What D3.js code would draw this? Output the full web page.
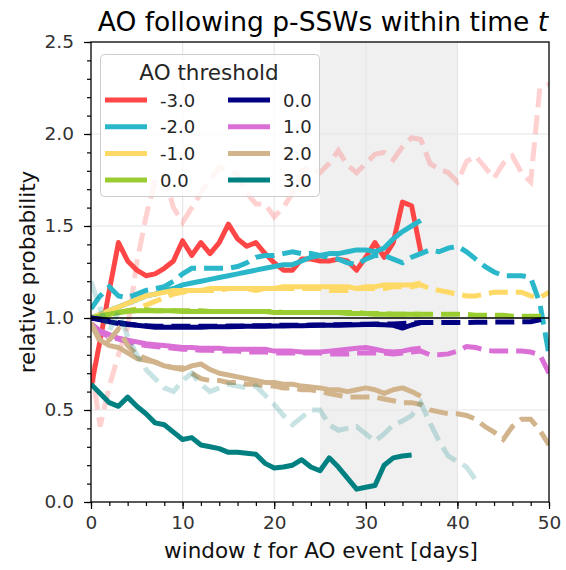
<!DOCTYPE html>
<html><head><meta charset="utf-8">
<script src="https://cdn.jsdelivr.net/npm/d3@7"></script>
<style>
body{margin:0;background:#fff;}
text{font-family:"DejaVu Sans",sans-serif;}
</style></head>
<body><div id="chart"></div>
<script>
// ---- data ----
const xTicks = [0,10,20,30,40,50];
const yTicks = [0.0,0.5,1.0,1.5,2.0,2.5];
const shadeRange = [25,40];
const legendLabels = ["-3.0","-2.0","-1.0","0.0","0.0","1.0","2.0","3.0"];
const colors = ["#ff4646","#2ab7ca","#ffd966","#9acd32","#000080","#da70d6","#d2b48c","#008080"];

const redSolid = [0.62,0.88,1.15,1.41,1.31,1.26,1.23,1.24,1.27,1.31,1.42,1.34,1.41,1.35,1.41,1.51,1.43,1.39,1.41,1.35,1.30,1.26,1.26,1.32,1.32,1.31,1.31,1.32,1.31,1.26,1.33,1.41,1.33,1.41,1.63,1.61,1.36];
const redDashed = [0.75,0.41,0.63,0.8,0.95,1.3,1.55,1.75,1.78,1.6,1.52,1.6,1.68,1.75,1.82,1.8,1.78,1.68,1.62,1.62,1.55,1.6,1.68,1.8,1.82,1.79,1.84,1.91,1.83,1.79,1.84,1.89,1.9,1.86,1.93,1.98,1.97,1.84,1.81,1.79,1.74,1.85,1.88,1.82,1.76,1.84,1.88,1.79,1.74,2.25,2.27];
const cyanSolid = [1.0,1.02,1.04,1.06,1.08,1.10,1.12,1.13,1.15,1.16,1.18,1.19,1.2,1.21,1.22,1.23,1.24,1.25,1.26,1.27,1.28,1.29,1.29,1.31,1.33,1.34,1.35,1.35,1.36,1.37,1.37,1.36,1.38,1.43,1.47,1.50,1.53];
const cyanDashed = [1.05,1.12,1.17,1.12,1.11,1.13,1.15,1.16,1.17,1.2,1.24,1.27,1.27,1.27,1.27,1.27,1.28,1.3,1.33,1.34,1.34,1.35,1.36,1.35,1.35,1.34,1.33,1.32,1.3,1.29,1.32,1.34,1.34,1.32,1.3,1.33,1.35,1.37,1.36,1.38,1.39,1.36,1.32,1.28,1.25,1.23,1.23,1.23,1.22,1.08,0.8];
const yellowSolid = [1.0,1.02,1.04,1.06,1.08,1.10,1.12,1.13,1.14,1.15,1.15,1.15,1.15,1.16,1.16,1.16,1.16,1.16,1.16,1.16,1.16,1.17,1.17,1.17,1.17,1.17,1.17,1.17,1.17,1.16,1.17,1.17,1.18,1.18,1.18,1.18,1.19];
const yellowDashed = [1.0,1.01,1.02,1.03,1.04,1.05,1.07,1.09,1.11,1.13,1.14,1.15,1.15,1.15,1.15,1.16,1.16,1.16,1.15,1.16,1.16,1.16,1.16,1.16,1.16,1.16,1.15,1.15,1.15,1.16,1.16,1.16,1.16,1.17,1.17,1.17,1.18,1.16,1.15,1.14,1.13,1.12,1.12,1.13,1.14,1.14,1.14,1.14,1.12,1.11,1.14];
const greenSolid = [1.0,1.01,1.02,1.03,1.035,1.04,1.04,1.04,1.04,1.04,1.035,1.035,1.035,1.035,1.035,1.035,1.035,1.035,1.035,1.035,1.03,1.03,1.03,1.03,1.03,1.03,1.03,1.03,1.025,1.025,1.025,1.02,1.02,1.02,1.02,1.02,1.02];
const greenDashed = [1.0,1.01,1.02,1.03,1.04,1.045,1.045,1.04,1.04,1.04,1.04,1.04,1.04,1.035,1.035,1.035,1.035,1.035,1.035,1.035,1.035,1.03,1.03,1.03,1.03,1.03,1.03,1.03,1.03,1.03,1.025,1.025,1.025,1.02,1.02,1.02,1.02,1.02,1.02,1.02,1.02,1.02,1.015,1.015,1.015,1.015,1.01,1.01,1.01,1.01,1.005];
const navySolid = [1.0,0.99,0.98,0.97,0.965,0.96,0.955,0.95,0.95,0.95,0.95,0.95,0.95,0.952,0.952,0.953,0.954,0.955,0.955,0.955,0.956,0.957,0.958,0.958,0.959,0.96,0.96,0.96,0.962,0.963,0.965,0.965,0.963,0.96,0.945,0.962,0.975];
const navyDashed = [1.0,0.995,0.985,0.975,0.968,0.962,0.958,0.955,0.955,0.955,0.955,0.955,0.955,0.955,0.955,0.956,0.956,0.957,0.958,0.958,0.96,0.96,0.96,0.96,0.962,0.962,0.963,0.963,0.964,0.965,0.966,0.967,0.968,0.968,0.97,0.972,0.975,0.975,0.976,0.976,0.976,0.976,0.977,0.977,0.978,0.978,0.978,0.979,0.98,0.99,1.0];
const magentaSolid = [0.97,0.93,0.91,0.89,0.88,0.87,0.86,0.855,0.85,0.845,0.84,0.84,0.835,0.835,0.835,0.83,0.83,0.83,0.83,0.83,0.82,0.82,0.82,0.815,0.815,0.815,0.82,0.825,0.83,0.835,0.84,0.83,0.82,0.815,0.82,0.83,0.835];
const magentaDashed = [0.95,0.92,0.9,0.885,0.87,0.86,0.85,0.845,0.84,0.835,0.83,0.83,0.825,0.825,0.82,0.82,0.82,0.815,0.815,0.815,0.81,0.81,0.81,0.81,0.81,0.81,0.805,0.805,0.805,0.81,0.81,0.81,0.81,0.805,0.81,0.815,0.82,0.8,0.8,0.805,0.82,0.845,0.84,0.825,0.82,0.82,0.82,0.82,0.815,0.8,0.7];
const tanSolid = [0.97,0.88,0.85,0.84,0.81,0.78,0.77,0.76,0.74,0.73,0.72,0.74,0.75,0.72,0.70,0.69,0.68,0.67,0.66,0.65,0.65,0.64,0.64,0.63,0.625,0.62,0.61,0.61,0.6,0.61,0.62,0.61,0.59,0.61,0.62,0.6,0.575];
const tanDashed = [0.97,0.87,0.88,0.94,0.85,0.8,0.78,0.76,0.74,0.73,0.73,0.7,0.67,0.66,0.66,0.65,0.65,0.64,0.64,0.63,0.63,0.62,0.62,0.61,0.61,0.6,0.59,0.58,0.57,0.57,0.57,0.57,0.56,0.55,0.54,0.54,0.53,0.5,0.49,0.48,0.48,0.47,0.45,0.41,0.38,0.34,0.41,0.45,0.45,0.39,0.31];
const tealSolid = [0.64,0.59,0.54,0.52,0.57,0.52,0.48,0.43,0.42,0.38,0.34,0.35,0.31,0.3,0.29,0.27,0.27,0.265,0.26,0.21,0.185,0.19,0.2,0.23,0.19,0.17,0.24,0.19,0.13,0.07,0.08,0.09,0.2,0.24,0.25,0.255];
const tealDashed = [1.2,1.05,0.93,1.03,0.9,0.8,0.72,0.67,0.62,0.6,0.66,0.7,0.64,0.6,0.62,0.64,0.63,0.62,0.63,0.58,0.53,0.47,0.42,0.46,0.5,0.5,0.42,0.39,0.4,0.41,0.37,0.33,0.37,0.42,0.44,0.47,0.54,0.43,0.33,0.25,0.22,0.19,0.12];

const solids = [redSolid,cyanSolid,yellowSolid,greenSolid,navySolid,magentaSolid,tanSolid,tealSolid];
const dasheds = [redDashed,cyanDashed,yellowDashed,greenDashed,navyDashed,magentaDashed,tanDashed,tealDashed];
const dashedOpacity = [0.25,1,1,1,1,1,1,0.22];

// ---- layout ----
const W=566,H=570;
const m={l:91,r:17,t:42,b:68};
const svg=d3.select("#chart").append("svg").attr("width",W).attr("height",H);
const x=d3.scaleLinear().domain([0,50]).range([m.l,W-m.r]);
const y=d3.scaleLinear().domain([0,2.5]).range([H-m.b,m.t]);

// shading
svg.append("rect").attr("x",x(shadeRange[0])).attr("y",y(2.5))
  .attr("width",x(shadeRange[1])-x(shadeRange[0])).attr("height",y(0)-y(2.5))
  .attr("fill","#f0f0f0");
// grid
const g=svg.append("g");
g.selectAll("line.gx").data(xTicks.slice(1,-1)).join("line")
  .attr("x1",d=>x(d)).attr("x2",d=>x(d)).attr("y1",y(0)).attr("y2",y(2.5))
  .attr("stroke","#e6e6e6").attr("stroke-width",1.2);
g.selectAll("line.gy").data(yTicks.slice(1,-1)).join("line")
  .attr("y1",d=>y(d)).attr("y2",d=>y(d)).attr("x1",x(0)).attr("x2",x(50))
  .attr("stroke","#e6e6e6").attr("stroke-width",1.2);

svg.append("clipPath").attr("id","clip").append("rect")
  .attr("x",x(0)).attr("y",y(2.5)).attr("width",x(50)-x(0)).attr("height",y(0)-y(2.5));
const lines=svg.append("g").attr("clip-path","url(#clip)");
const line=d3.line().x((d,i)=>x(i)).y(d=>y(d));
for(let k=0;k<8;k++){
  lines.append("path").attr("d",line(dasheds[k])).attr("fill","none")
    .attr("stroke",colors[k]).attr("stroke-opacity",dashedOpacity[k])
    .attr("stroke-width",5).attr("stroke-dasharray","19,8");
  lines.append("path").attr("d",line(solids[k])).attr("fill","none")
    .attr("stroke",colors[k]).attr("stroke-width",5).attr("stroke-linejoin","round");
}
// reference line at 1
svg.append("line").attr("x1",x(0)).attr("x2",x(50)).attr("y1",y(1)).attr("y2",y(1))
  .attr("stroke","#000").attr("stroke-width",1.5);

// axes
const xAxis=d3.axisBottom(x).tickValues(xTicks).tickFormat(d3.format("d")).tickSize(7).tickPadding(7);
const xMinor=d3.axisBottom(x).tickValues(d3.range(0,51,2)).tickFormat("").tickSize(4);
const yAxis=d3.axisLeft(y).tickValues(yTicks).tickFormat(d3.format(".1f")).tickSize(7).tickPadding(10);
const yMinor=d3.axisLeft(y).tickValues(d3.range(0,26,1).map(d=>d/10)).tickFormat("").tickSize(4);
function styleAx(sel){sel.select(".domain").remove();sel.selectAll("line").attr("stroke","#000").attr("stroke-width",1.2);
  sel.selectAll("text").attr("font-size","18.5px").attr("fill","#333").attr("font-family","DejaVu Sans");}
svg.append("g").attr("transform",`translate(0,${y(0)})`).call(xMinor).call(styleAx);
svg.append("g").attr("transform",`translate(0,${y(0)})`).call(xAxis).call(styleAx);
svg.append("g").attr("transform",`translate(${x(0)},0)`).call(yMinor).call(styleAx);
svg.append("g").attr("transform",`translate(${x(0)},0)`).call(yAxis).call(styleAx);
svg.append("rect").attr("x",x(0)).attr("y",y(2.5)).attr("width",x(50)-x(0)).attr("height",y(0)-y(2.5))
  .attr("fill","none").attr("stroke","#000").attr("stroke-width",1.3);

// title & labels
const title=svg.append("text").attr("x",(x(0)+x(50))/2+3).attr("y",31).attr("text-anchor","middle")
  .attr("font-size","26.5px").attr("fill","#000");
title.append("tspan").text("AO following p-SSWs within time ");
title.append("tspan").attr("font-style","italic").text("t");
const xl=svg.append("text").attr("x",(x(0)+x(50))/2+1).attr("y",558).attr("text-anchor","middle")
  .attr("font-size","21.5px").attr("fill","#111");
xl.append("tspan").text("window ");
xl.append("tspan").attr("font-style","italic").text("t");
xl.append("tspan").text(" for AO event [days]");
svg.append("text").attr("transform",`translate(35,${(y(0)+y(2.5))/2}) rotate(-90)`)
  .attr("text-anchor","middle").attr("font-size","21.5px").attr("fill","#111").text("relative probability");

// legend
const lg=svg.append("g");
lg.append("rect").attr("x",100.5).attr("y",54.5).attr("width",219).attr("height",142).attr("rx",4)
  .attr("fill","#fff").attr("fill-opacity",0.8).attr("stroke","#cccccc").attr("stroke-width",1);
lg.append("text").attr("x",209).attr("y",80).attr("text-anchor","middle").attr("font-size","21.5px")
  .attr("fill","#262626").text("AO threshold");
legendLabels.forEach((lab,i)=>{
  const col=Math.floor(i/4), row=i%4;
  const lx=col===0?105:228, ly=100+row*26.7;
  lg.append("line").attr("x1",lx).attr("x2",lx+42).attr("y1",ly).attr("y2",ly)
    .attr("stroke",colors[i]).attr("stroke-width",5);
  lg.append("text").attr("x",lx+55).attr("y",ly+6.5).attr("font-size","18px").attr("fill","#262626").text(lab);
});
</script></body></html>
